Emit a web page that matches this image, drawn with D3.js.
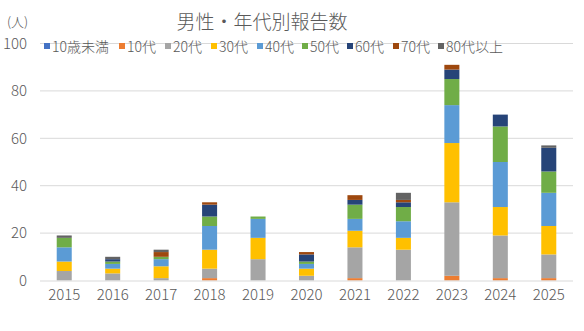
<!DOCTYPE html>
<html><head><meta charset="utf-8">
<script src="https://cdn.jsdelivr.net/npm/d3@7"></script>
<style>html,body{margin:0;padding:0;background:#fff;}svg{display:block;}</style>
</head><body>
<script>
const years = ["2015","2016","2017","2018","2019","2020","2021","2022","2023","2024","2025"];
const seriesNames = ["10歳未満","10代","20代","30代","40代","50代","60代","70代","80代以上"];
const under10   = [0,0,0,0,0,0,0,0,0,0,0];
const teens     = [0,0,0,1,0,0,1,0,2,1,1];
const twenties  = [4,3,1,4,9,2,13,13,31,18,10];
const thirties  = [4,2,5,8,9,3,7,5,25,12,12];
const forties   = [6,2,3,10,8,2,5,7,16,19,14];
const fifties   = [4,1,1,4,1,1,6,6,11,15,9];
const sixties   = [0,1,0,5,0,3,2,2,4,5,10];
const seventies = [0,0,2,1,0,1,2,1,2,0,0];
const eighties  = [1,1,1,0,0,0,0,3,0,0,1];
const yTicks = [0,20,40,60,80,100];
const colors = ["#4472C4","#ED7D31","#A5A5A5","#FFC000","#5B9BD5","#70AD47","#264478","#9E480E","#636363"];

const seriesValues = [under10,teens,twenties,thirties,forties,fifties,sixties,seventies,eighties];
const table = years.map((y,i)=>{const o={year:y};seriesNames.forEach((s,k)=>o[s]=seriesValues[k][i]);return o;});

const W=584,H=331;
const svg=d3.select("body").append("svg").attr("width",W).attr("height",H);
const font='"Noto Sans CJK JP","Noto Sans",sans-serif';
const txt="#595959";

const x=d3.scaleBand().domain(years).range([40,573]).paddingInner(0.69).paddingOuter(0.345);
const y=d3.scaleLinear().domain([0,100]).range([280.5,43.5]);

// gridlines
svg.append("g").selectAll("line").data(yTicks.filter(t=>t>0)).join("line")
  .attr("x1",40).attr("x2",573).attr("y1",d=>y(d)).attr("y2",d=>y(d))
  .attr("stroke","#d9d9d9").attr("stroke-width",1);

// y axis labels
const yAxis=d3.axisLeft(y).tickValues(yTicks).tickSize(0).tickPadding(0);
const yg=svg.append("g").attr("transform","translate(27,0)").call(yAxis);
yg.select(".domain").remove();
yg.selectAll("text").attr("font-family",font).attr("font-size",15).attr("fill",txt).attr("font-weight",300);

// stacked bars
const stack=d3.stack().keys(seriesNames)(table);
svg.append("g").selectAll("g").data(stack).join("g").attr("fill",(d,i)=>colors[i])
  .selectAll("rect").data(d=>d.filter(p=>p[1]-p[0]>0)).join("rect")
  .attr("x",d=>x(d.data.year)).attr("width",x.bandwidth())
  .attr("y",d=>y(d[1])).attr("height",d=>y(d[0])-y(d[1]));

// x axis
const xAxis=d3.axisBottom(x).tickSize(0).tickPadding(9);
const xg=svg.append("g").attr("transform",`translate(0,${y(0)})`).call(xAxis);
xg.select(".domain").attr("stroke","#d9d9d9").attr("stroke-width",1.2).attr("d","M40,0.5H573");
xg.selectAll("text").attr("font-family",font).attr("font-size",15).attr("fill",txt).attr("font-weight",300);

// title
svg.append("text").attr("x",262).attr("y",29).attr("text-anchor","middle")
  .attr("font-family",font).attr("font-size",19).attr("font-weight",300).attr("fill",txt).text("男性・年代別報告数");
svg.append("text").attr("x",7).attr("y",27).attr("font-family",font).attr("font-size",13).attr("font-weight",300).attr("fill",txt).text("(人)");

// legend
const legendX=[44,119,165,211,257,302,347,393,438];
const lg=svg.append("g").selectAll("g").data(seriesNames).join("g")
  .attr("transform",(d,i)=>`translate(${legendX[i]},0)`);
lg.append("rect").attr("x",0).attr("y",43).attr("width",6).attr("height",6).attr("fill",(d,i)=>colors[i]);
lg.append("text").attr("x",8).attr("y",51.5).attr("font-family",font).attr("font-size",14).attr("font-weight",300)
  .attr("fill",txt).text(d=>d);
</script>
</body></html>
